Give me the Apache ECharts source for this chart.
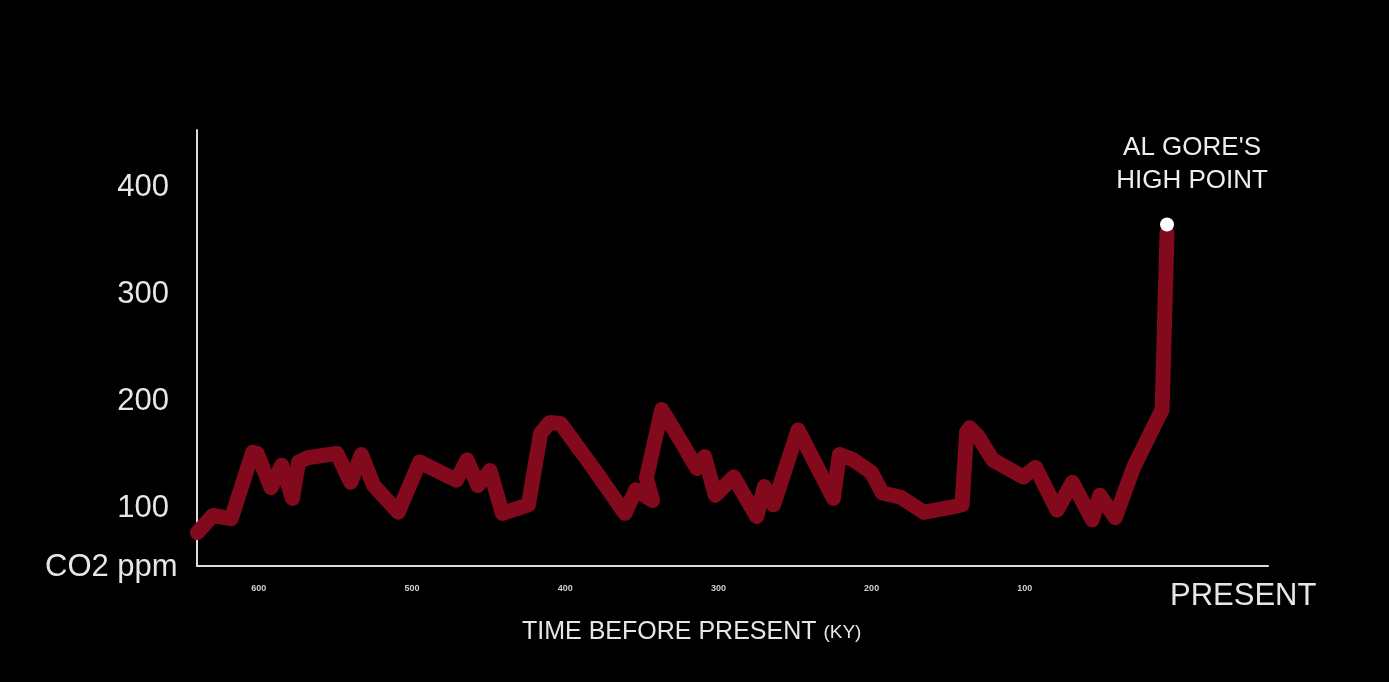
<!DOCTYPE html>
<html>
<head>
<meta charset="utf-8">
<script src="https://cdn.jsdelivr.net/npm/echarts@6/dist/echarts.min.js"></script>
<style>
html,body{margin:0;padding:0;background:#000;}
#chart{width:1389px;height:682px;}
</style>
</head>
<body>
<div id="chart"></div>
<script>
// Time before present (ky) and CO2 (ppm)
const timeKy = [640, 630, 618, 604, 601, 592, 585, 578, 574, 568, 549, 540, 533, 525, 509, 495, 471, 464, 457, 449, 441, 424, 416, 410, 403, 382, 361, 354, 343, 347, 337, 323, 314, 309, 302, 290, 275, 270, 264, 248, 225, 221, 212, 200, 193, 181, 166, 147, 141, 138, 136, 131, 121, 101, 93, 79, 69, 56, 51, 41, 29, 18, 10.4, 7.2];
const co2Ppm = [77, 93, 90, 152, 151, 119, 140, 109, 143, 147, 151, 124, 150, 121, 96, 143, 126, 145, 121, 135, 95, 103, 170, 180, 179, 138, 95, 117, 107, 128, 192, 159, 137, 148, 112, 129, 92, 120, 103, 173, 109, 150, 145, 133, 114, 110, 96, 101, 103, 171, 175, 168, 145, 129, 138, 98, 124, 89, 112, 91, 138, 170, 192, 357];
const highPoint = [7.2, 365];
const highPointLabel = "AL GORE'S\nHIGH POINT";
const xTickValues = [100, 200, 300, 400, 500, 600];
const yTickValues = [100, 200, 300, 400];

const lineData = timeKy.map((t, i) => [t, co2Ppm[i]]);
const FONT = "'Liberation Sans', Arial, Helvetica, sans-serif";

const chart = echarts.init(document.getElementById('chart'));
chart.setOption({
  backgroundColor: '#000',
  animation: false,
  grid: { left: 197, right: 121, top: 130, bottom: 116 },
  xAxis: {
    type: 'value',
    inverse: true,
    min: -58.7,
    max: 640.3,
    axisLine: { show: true, onZero: false, lineStyle: { color: '#dcdcdc', width: 2 } },
    axisTick: { show: false },
    splitLine: { show: false },
    axisLabel: {
      customValues: xTickValues,
      color: '#cfcfcf',
      fontSize: 9,
      fontWeight: 'bold',
      fontFamily: FONT,
      margin: 18
    }
  },
  yAxis: {
    type: 'value',
    min: 45.8,
    max: 453.3,
    axisLine: { show: true, onZero: false, lineStyle: { color: '#dcdcdc', width: 2 } },
    axisTick: { show: false },
    splitLine: { show: false },
    axisLabel: {
      customValues: yTickValues,
      color: '#e6e6e6',
      fontSize: 31,
      fontFamily: FONT,
      margin: 28
    }
  },
  graphic: [
    { type: 'text', left: 45, top: 552, style: { text: 'CO2 ppm', fill: '#e6e6e6', font: '31px ' + FONT } },
    { type: 'text', left: 1170, top: 581, style: { text: 'PRESENT', fill: '#e6e6e6', font: '31px ' + FONT } },
    { type: 'text', left: 522, top: 620, style: {
      text: '{a|TIME BEFORE PRESENT }{b|(KY)}',
      rich: {
        a: { fill: '#e6e6e6', fontSize: 25, fontFamily: FONT },
        b: { fill: '#e6e6e6', fontSize: 19, fontFamily: FONT }
      }
    } }
  ],
  series: [
    {
      type: 'line',
      data: lineData,
      symbol: 'none',
      smooth: false,
      lineStyle: { color: '#830a1c', width: 15, cap: 'round', join: 'round' },
      z: 2
    },
    {
      type: 'scatter',
      data: [highPoint],
      symbol: 'circle',
      symbolSize: 14,
      itemStyle: { color: '#ffffff', opacity: 1 },
      label: {
        show: true,
        position: 'top',
        distance: 20,
        offset: [25, 0],
        formatter: highPointLabel,
        color: '#ededed',
        fontSize: 26,
        lineHeight: 33,
        fontFamily: FONT,
        align: 'center'
      },
      z: 3
    }
  ]
});
</script>
</body>
</html>
